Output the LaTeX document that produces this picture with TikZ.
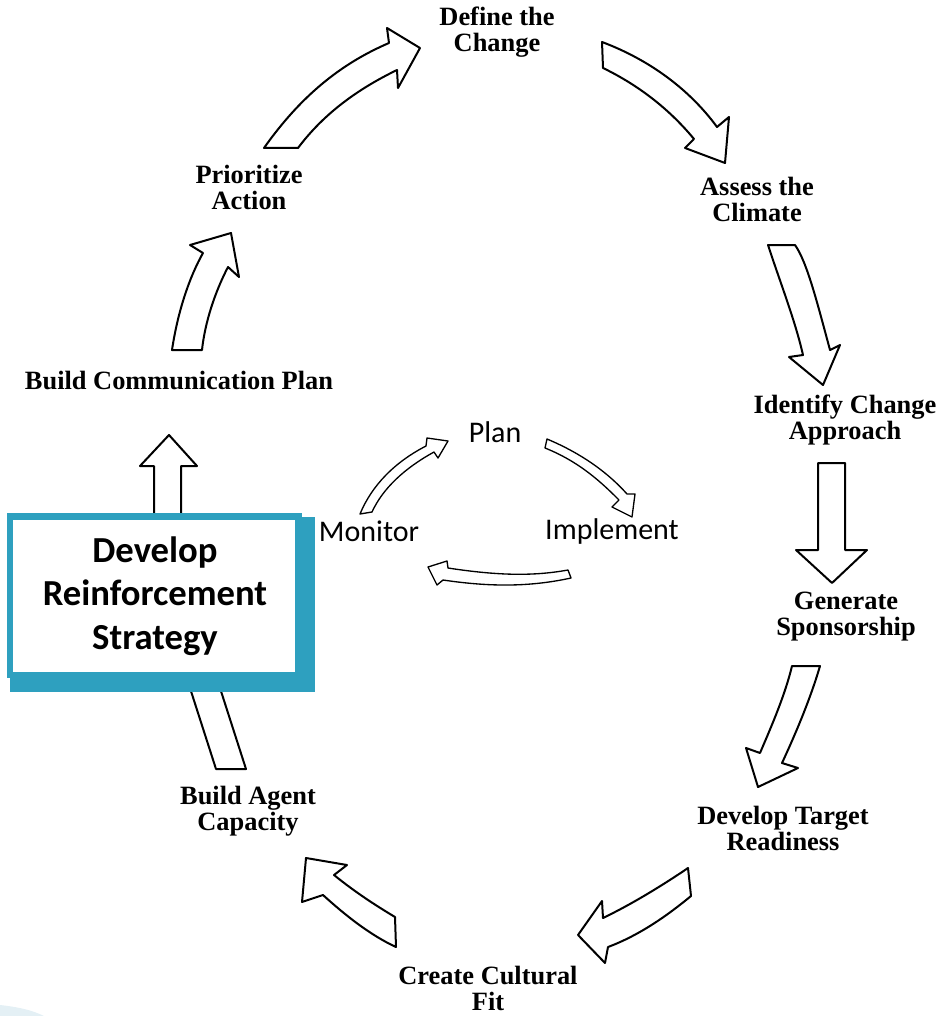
\documentclass[tikz,border=0pt]{standalone}
\usepackage{fontspec}
\setmainfont{Liberation Serif}
\newfontfamily\calibri{Carlito}
\definecolor{teal1}{HTML}{2EA0BF}
\definecolor{paleblue}{HTML}{E4F0F5}
\tikzset{
  blockarrow/.style={draw=black, fill=white, line width=1.5pt, line join=round},
  thinarrow/.style={draw=black, fill=white, line width=1pt, line join=round},
  steplabel/.style={font=\bfseries\fontsize{19.8}{19.5}\selectfont, align=center, inner sep=0pt},
  cyclelabel/.style={font=\calibri\fontsize{22.5}{24}\selectfont, inner sep=0pt},
}
\begin{document}
\begin{tikzpicture}[x=0.75pt, y=-0.75pt]
\useasboundingbox (0,0) rectangle (942,1016);

% faint corner tint
\fill[paleblue] (0,1005) .. controls (18,1007) and (32,1010) .. (44,1016) -- (0,1016) -- cycle;

% ---- outer cycle of block arrows ----
% Prioritize Action -> Define the Change
\path[blockarrow] (264,148) .. controls (300,97) and (340,64) .. (389,43) -- (387,28) -- (420,48)
  -- (398,88) -- (397,70) .. controls (360,88) and (325,112) .. (298,148) -- cycle;
% Build Communication Plan -> Prioritize Action
\path[blockarrow] (172,350) .. controls (178,310) and (190,276) .. (203,253) -- (190,245) -- (231,233)
  -- (239,277) -- (228,267) .. controls (215,292) and (205,322) .. (202,350) -- cycle;
% Define the Change -> Assess the Climate
\path[blockarrow] (602,42) .. controls (650,60) and (690,90) .. (717,127) -- (729,117) -- (725,163)
  -- (685,148) -- (694,139) .. controls (670,110) and (640,86) .. (603,68) -- cycle;
% Assess the Climate -> Identify Change Approach
\path[blockarrow] (768,245) -- (795,245) .. controls (807,262) and (817,302) .. (830,350) -- (840,345)
  -- (823,385) -- (789,357) -- (803,355) .. controls (795,320) and (780,282) .. (768,245) -- cycle;
% Identify Change Approach -> Generate Sponsorship
\path[blockarrow] (818,463) -- (845,463) -- (845,550) -- (867,550) -- (832,583) -- (796,550)
  -- (818,550) -- cycle;
% Generate Sponsorship -> Develop Target Readiness
\path[blockarrow] (792,666) -- (820,666) .. controls (810,700) and (795,735) .. (782,763) -- (798,768)
  -- (758,787) -- (746,748) -- (760,753) .. controls (772,725) and (785,695) .. (792,666) -- cycle;
% Develop Target Readiness -> Create Cultural Fit
\path[blockarrow] (688,868) .. controls (660,887) and (630,905) .. (603,918) -- (602,901) -- (578,935)
  -- (605,963) -- (608,947) .. controls (640,935) and (668,915) .. (691,896) -- cycle;
% Create Cultural Fit -> Build Agent Capacity
\path[blockarrow] (306,858) -- (347,865) -- (334,875) .. controls (355,892) and (375,905) .. (395,917)
  -- (396,947) .. controls (370,935) and (345,915) .. (323,895) -- (302,902) -- cycle;
% Build Agent Capacity -> reinforcement box (shaft runs under the box)
\path[blockarrow] (181,660) -- (216,769) -- (246,769) -- (211,660);
% reinforcement box -> Build Communication Plan
\path[blockarrow] (154,530) -- (154,466) -- (140,466) -- (169,435) -- (197,466) -- (181,466)
  -- (181,530);

% ---- highlighted step box with its shadow ----
\fill[teal1] (10,517) rectangle (315,692);
\fill[teal1] (7,513) rectangle (302,678);
\fill[white] (13,520) rectangle (295,672);
\node[font=\calibri\bfseries\fontsize{27.5}{32.5}\selectfont, align=center, inner sep=0pt]
  (reinforce) at (155,596) {Develop\\Reinforcement\\Strategy};

% ---- step labels ----
\node[steplabel] (define)   at (497,32)  {Define the\\Change};
\node[steplabel] (assess)   at (757,199) {Assess the\\Climate};
\node[steplabel] (identify) at (845,420) {Identify Change\\Approach};
\node[steplabel] (generate) at (846,617) {Generate\\Sponsorship};
\node[steplabel] (develop)  at (783,828) {Develop Target\\Readiness};
\node[steplabel] (culture)  at (488,988) {Create Cultural\\Fit};
\node[steplabel] (agent)    at (248,811) {Build Agent\\Capacity};
\node[steplabel] (comm)     at (179,381) {Build Communication Plan};
\node[steplabel] (priority) at (249,187) {Prioritize\\Action};

% ---- inner plan / implement / monitor cycle ----
\node[cyclelabel] (plan)      at (495,432) {Plan};
\node[cyclelabel] (monitor)   at (369,531) {Monitor};
\node[cyclelabel] (implement) at (612,531) {Implement};

% Monitor -> Plan
\path[thinarrow] (360,514) .. controls (372,485) and (395,462) .. (426,446) -- (427,438) -- (448,441)
  -- (438,458) -- (434,452) .. controls (405,468) and (383,488) .. (372,512) -- cycle;
% Plan -> Implement
\path[thinarrow] (547,439) .. controls (585,455) and (610,475) .. (627,494) -- (635,494) -- (632,517)
  -- (612,507) -- (619,500) .. controls (602,483) and (580,462) .. (545,448) -- cycle;
% Implement -> Monitor
\path[thinarrow] (568,570) -- (571,578) .. controls (530,587) and (490,587) .. (443,580) -- (437,585)
  -- (428,567) -- (447,561) -- (448,568) .. controls (500,576) and (535,576) .. (568,570) -- cycle;
\end{tikzpicture}
\end{document}
